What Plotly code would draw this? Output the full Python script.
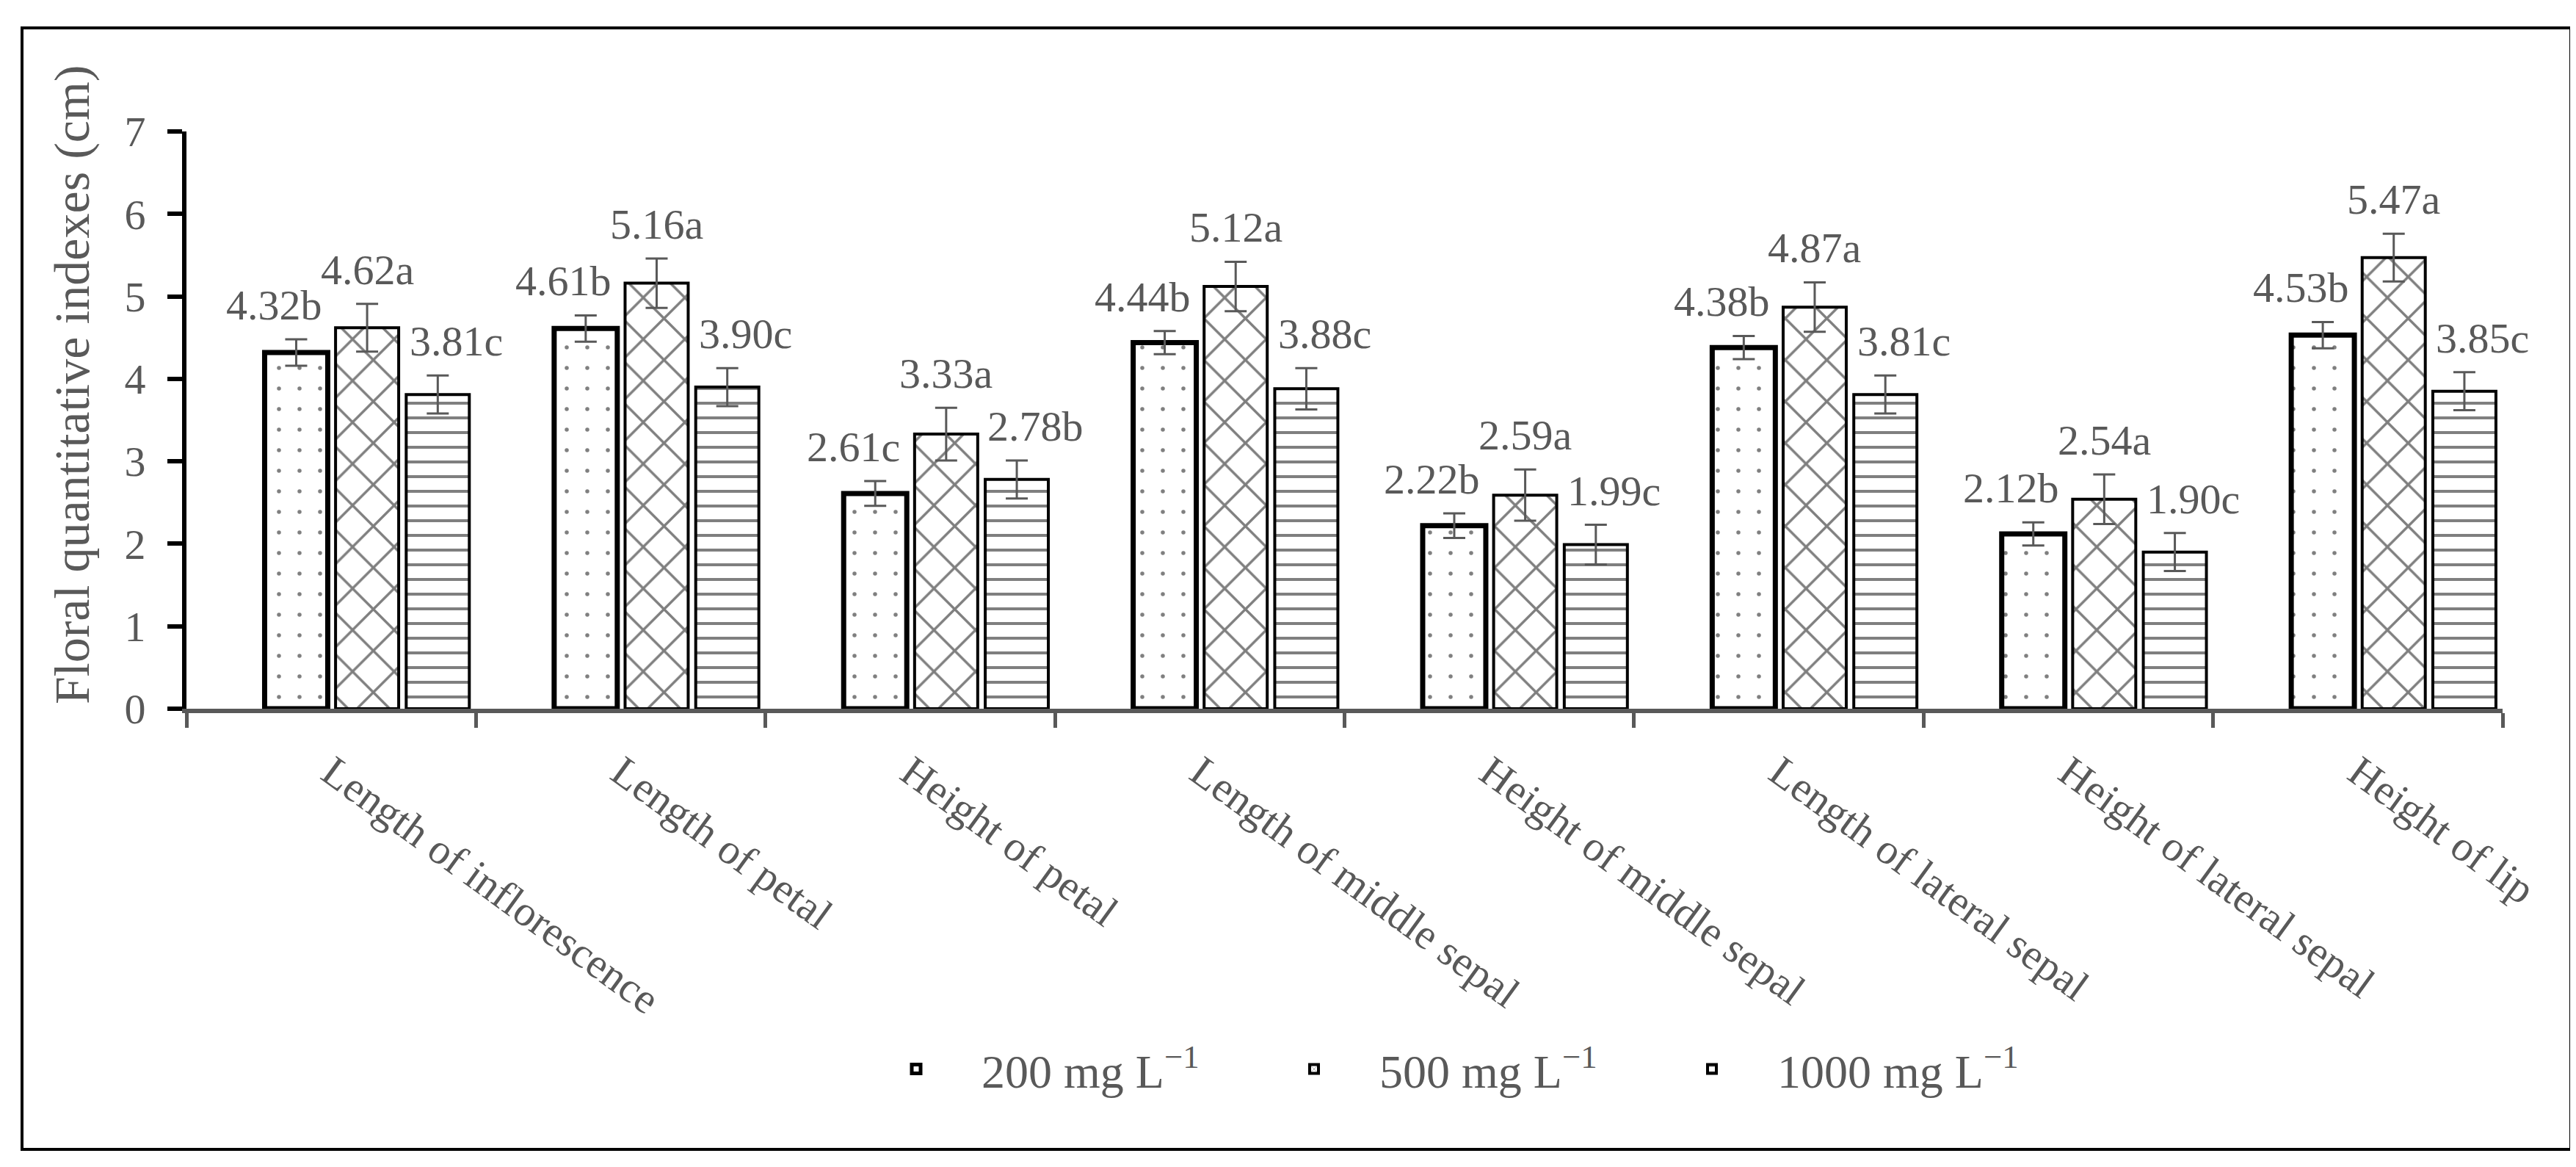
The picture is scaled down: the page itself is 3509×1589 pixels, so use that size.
import plotly.graph_objects as go

# --- data ---
categories = ["Length of inflorescence", "Length of petal", "Height of petal",
              "Length of middle sepal", "Height of middle sepal",
              "Length of lateral sepal", "Height of lateral sepal", "Height of lip"]

series_names = ["200 mg L<sup>−1</sup>", "500 mg L<sup>−1</sup>", "1000 mg L<sup>−1</sup>"]

vals_200 = [4.32, 4.61, 2.61, 4.44, 2.22, 4.38, 2.12, 4.53]
vals_500 = [4.62, 5.16, 3.33, 5.12, 2.59, 4.87, 2.54, 5.47]
vals_1000 = [3.81, 3.90, 2.78, 3.88, 1.99, 3.81, 1.90, 3.85]

err_200 = [0.16, 0.16, 0.15, 0.14, 0.15, 0.14, 0.14, 0.16]
err_500 = [0.29, 0.30, 0.32, 0.30, 0.31, 0.30, 0.30, 0.29]
err_1000 = [0.23, 0.23, 0.23, 0.25, 0.24, 0.23, 0.23, 0.23]

letters_200 = ["b", "b", "c", "b", "b", "b", "b", "b"]
letters_500 = ["a", "a", "a", "a", "a", "a", "a", "a"]
letters_1000 = ["c", "c", "b", "c", "c", "c", "c", "c"]

# --- page geometry (pixels) ---
W, H = 3509, 1589
L, R, T, B = 246, 108, 171, 632
plot_w = W - L - R
plot_h = H - T - B


def px(x):
    return (x - L) / plot_w


def py(y):
    return (H - B - y) / plot_h


GREY = "#595959"
FONT = "Liberation Serif"
bar_w = 0.218

styles = [
    dict(offset=-0.23, line=7, shape=".", size=28, solidity=0.03, dx=-30),
    dict(offset=0.015, line=4, shape="x", size=40, solidity=0.16, dx=0),
    dict(offset=0.259, line=4, shape="-", size=20, solidity=0.2, dx=25),
]
values = [vals_200, vals_500, vals_1000]
errors = [err_200, err_500, err_1000]
letters = [letters_200, letters_500, letters_1000]

fig = go.Figure()
annotations = []
for name, v, e, lt, st in zip(series_names, values, errors, letters, styles):
    fig.add_trace(go.Bar(
        name=name, x=categories, y=v,
        width=bar_w, offset=st["offset"],
        marker=dict(color="white",
                    line=dict(color="black", width=st["line"]),
                    pattern=dict(shape=st["shape"], fgcolor="black", bgcolor="white",
                                 size=st["size"], solidity=st["solidity"])),
        error_y=dict(type="data", array=e, visible=True, color=GREY,
                     thickness=3, width=15),
    ))
    for i, (val, err, let) in enumerate(zip(v, e, lt)):
        annotations.append(dict(
            x=i + st["offset"] + bar_w / 2, y=val + err, xref="x", yref="y",
            text=f"{val:.2f}{let}", showarrow=False,
            xanchor="center", yanchor="bottom", xshift=st["dx"], yshift=12,
            font=dict(family=FONT, size=58, color=GREY),
        ))

annotations.append(dict(
    x=px(90), y=py(516), xref="paper", yref="paper",
    text="Floral quantitative indexes (cm)", textangle=-90, showarrow=False,
    xanchor="center", yanchor="middle",
    font=dict(family=FONT, size=68, color=GREY),
))

fig.update_layout(
    width=W, height=H, autosize=False,
    margin=dict(l=L, r=R, t=T, b=B, pad=0),
    paper_bgcolor="white", plot_bgcolor="white",
    barmode="overlay",
    showlegend=True,
    legend=dict(orientation="h", x=px(1151), y=py(1448), xanchor="left", yanchor="middle",
                font=dict(family=FONT, size=64, color=GREY),
                entrywidth=359, itemwidth=168, traceorder="normal"),
    annotations=annotations,
    shapes=[dict(type="rect", xref="paper", yref="paper",
                 x0=px(22), x1=px(3494), y0=py(1557), y1=py(30),
                 line=dict(color="black", width=4))],
    font=dict(family=FONT, color=GREY),
)

fig.update_xaxes(
    type="category", range=[-0.5, 7.5], tickson="boundaries",
    showline=True, linecolor=GREY, linewidth=6,
    ticks="outside", ticklen=20, tickwidth=5, tickcolor=GREY,
    tickangle=36, tickfont=dict(family=FONT, size=58, color=GREY),
    ticklabelstandoff=24, showgrid=False, automargin=False,
)
fig.update_yaxes(
    range=[0, 7], dtick=1, showline=True, linecolor="black", linewidth=6,
    ticks="outside", ticklen=20, tickwidth=6, tickcolor="black",
    tickfont=dict(family=FONT, size=58, color=GREY), ticklabelstandoff=18,
    showgrid=False, zeroline=False, automargin=False,
)

fig.write_html("out.html")
